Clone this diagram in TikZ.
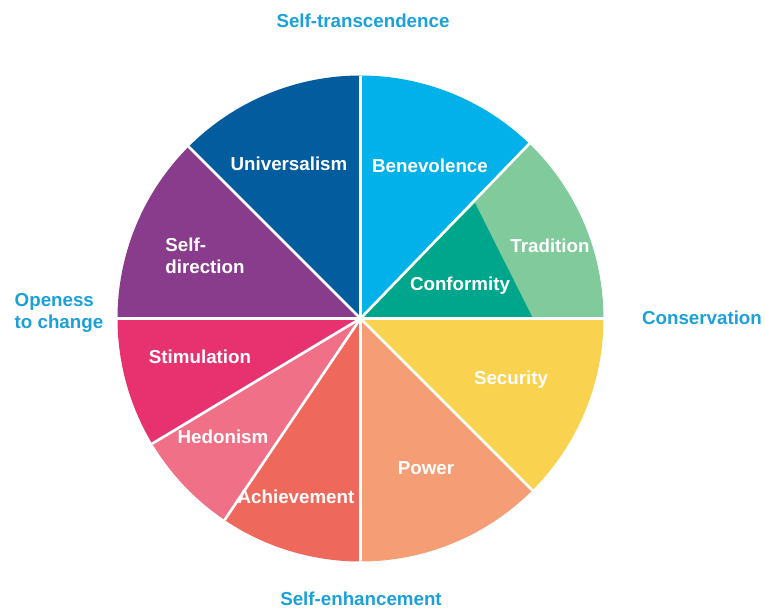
\documentclass[tikz,border=0pt]{standalone}
\usepackage{fontspec}
\setmainfont{Liberation Sans}

\definecolor{univ}{HTML}{025C9D}
\definecolor{benev}{HTML}{03B1EA}
\definecolor{tradition}{HTML}{80CA9B}
\definecolor{conform}{HTML}{00A68C}
\definecolor{security}{HTML}{F9D24F}
\definecolor{power}{HTML}{F59D74}
\definecolor{achieve}{HTML}{EE695B}
\definecolor{hedon}{HTML}{EF7087}
\definecolor{stimul}{HTML}{E8326F}
\definecolor{selfdir}{HTML}{893C8B}
\definecolor{axisblue}{HTML}{1CA0DA}

\tikzset{
  spoke/.style={white,line width=0.8mm},
  inlbl/.style={text=white,inner sep=0pt},
  outlbl/.style={text=axisblue,inner sep=0pt}
}

\begin{document}
\begin{tikzpicture}[x=0.3mm,y=0.3mm,font=\fontsize{16}{19}\selectfont\bfseries]
    \def\R{243}
    \useasboundingbox (-360.5,-291.5) rectangle (404.5,318.5);

    % the ten value wedges
    \foreach \a/\b/\c in {0/46/tradition,46/90/benev,90/135/univ,135/180/selfdir,
        180/211/stimul,211/236/hedon,236/270/achieve,270/315/power,315/360/security}
        \fill[\c] (0,0) -- (\a:\R) arc[start angle=\a,end angle=\b,radius=\R] -- cycle;
    \fill[conform] (0,0) -- (114.5,115.5) -- (172.5,0) -- cycle;
    \foreach \a in {0,46,90,135,180,211,236,270,315}
        \draw[spoke] (0,0) -- (\a:\R);

    \node[inlbl] (universalism) at (-71.5,154.5) {Universalism};
    \node[inlbl] (benevolence) at (69.5,152.5) {Benevolence};
    \node[inlbl] (tradition) at (189.5,72.5) {Tradition};
    \node[inlbl] (conformity) at (99.5,32.5) {Conformity};
    \node[inlbl,align=left] (selfdirection) at (-155.5,62.5) {Self-\\direction};
    \node[inlbl] (stimulation) at (-160.5,-38.5) {Stimulation};
    \node[inlbl] (hedonism) at (-137.5,-118.5) {Hedonism};
    \node[inlbl] (achievement) at (-64.5,-178.5) {Achievement};
    \node[inlbl] (power) at (65.5,-149.5) {Power};
    \node[inlbl] (security) at (150.5,-61.5) {Security};

    \node[outlbl] (transcend) at (2.5,297.5) {Self-transcendence};
    \node[outlbl] (enhance) at (0.5,-280.5) {Self-enhancement};
    \node[outlbl] (conservation) at (341.5,0.5) {Conservation};
    \node[outlbl,align=left] (openness) at (-301.5,5.5) {Openess\\to change};
\end{tikzpicture}
\end{document}
